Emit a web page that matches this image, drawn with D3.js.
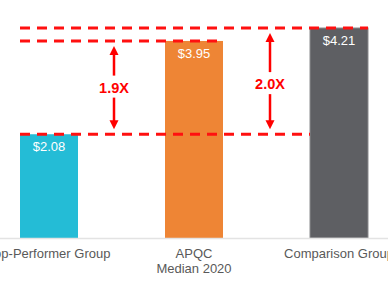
<!DOCTYPE html>
<html>
<head>
<script src="https://d3js.org/d3.v7.min.js"></script>
<style>
    body { margin: 0; background: #fff; }
    text { font-family: "Liberation Sans", Arial, sans-serif; }
</style>
</head>
<body>
<svg width="388" height="300"></svg>
<script>
// data
var categories = ["Top-Performer Group", "APQC\nMedian 2020", "Comparison Group"];
var values = [2.08, 3.95, 4.21];
var valueLabels = ["$2.08", "$3.95", "$4.21"];
var barColors = ["#24bcd6", "#ee8535", "#5e5f63"];
var ratioLabels = ["1.9X", "2.0X"];

var svg = d3.select("svg");
var baseY = 238;

var x = d3.scaleBand()
    .domain(categories)
    .range([-9, 397])
    .paddingInner(0.6)
    .paddingOuter(0.2);

var y = d3.scaleLinear()
    .domain([0, 4.21])
    .range([baseY, 28]);

var bw = x.bandwidth();

// bars
svg.selectAll(".bar")
    .data(categories)
    .enter().append("rect")
    .attr("class", "bar")
    .attr("x", function (d) { return x(d); })
    .attr("y", function (d, i) { return y(values[i]); })
    .attr("width", bw)
    .attr("height", function (d, i) { return baseY - y(values[i]); })
    .attr("fill", function (d, i) { return barColors[i]; })
    .attr("stroke", function (d, i) { return i == 2 ? "#8a8b8e" : "none"; })
    .attr("stroke-width", 1);

// baseline
svg.append("line")
    .attr("x1", 0).attr("x2", 388)
    .attr("y1", baseY + 0.5).attr("y2", baseY + 0.5)
    .attr("stroke", "#e3e3e3")
    .attr("stroke-width", 1.5);

// value labels inside the bars
svg.selectAll(".val")
    .data(categories)
    .enter().append("text")
    .attr("class", "val")
    .attr("x", function (d) { return x(d) + bw / 2; })
    .attr("y", function (d, i) { return y(values[i]) + 17; })
    .attr("text-anchor", "middle")
    .attr("fill", "#fff")
    .style("font-size", "13px")
    .text(function (d, i) { return valueLabels[i]; });

// category labels
var cat = svg.selectAll(".cat")
    .data(categories)
    .enter().append("text")
    .attr("class", "cat")
    .attr("text-anchor", "middle")
    .attr("fill", "#595959")
    .style("font-size", "13px");

cat.selectAll("tspan")
    .data(function (d) { return d.split("\n").map(function (t) { return {t: t, c: d}; }); })
    .enter().append("tspan")
    .attr("x", function (d) { return x(d.c) + bw / 2; })
    .attr("y", function (d, i) { return 258 + i * 15; })
    .text(function (d) { return d.t; });

// dashed reference lines
var x0 = x(categories[0]);
var refs = [
    {v: values[2], x2: x(categories[2]) + bw},
    {v: values[1], x2: x(categories[1]) + bw},
    {v: values[0], x2: x(categories[2])}
];
svg.selectAll(".ref")
    .data(refs)
    .enter().append("line")
    .attr("class", "ref")
    .attr("x1", x0)
    .attr("x2", function (d) { return d.x2; })
    .attr("y1", function (d) { return y(d.v); })
    .attr("y2", function (d) { return y(d.v); })
    .attr("stroke", "#ff1010")
    .attr("stroke-width", 3)
    .attr("stroke-dasharray", "10,7");

// double-headed arrows with ratio text
var arrows = [
    {ax: x(categories[0]) + bw + 36, lo: values[0], hi: values[1], label: ratioLabels[0], ty: 0},
    {ax: x(categories[1]) + bw + 47, lo: values[0], hi: values[2], label: ratioLabels[1], ty: 3}
];

arrows.forEach(function (a) {
    var top = y(a.hi) + 5, bot = y(a.lo) - 5;
    var mid = (y(a.hi) + y(a.lo)) / 2 + a.ty;
    var g = svg.append("g").attr("fill", "#ff0000").attr("stroke", "#ff0000");
    g.append("line")
        .attr("x1", a.ax).attr("x2", a.ax)
        .attr("y1", top + 6).attr("y2", mid - 12)
        .attr("stroke-width", 2.5);
    g.append("line")
        .attr("x1", a.ax).attr("x2", a.ax)
        .attr("y1", mid + 10).attr("y2", bot - 6)
        .attr("stroke-width", 2.5);
    g.append("path")
        .attr("stroke", "none")
        .attr("d", "M" + a.ax + "," + top + "L" + (a.ax - 4.5) + "," + (top + 9) + "L" + (a.ax + 4.5) + "," + (top + 9) + "Z");
    g.append("path")
        .attr("stroke", "none")
        .attr("d", "M" + a.ax + "," + bot + "L" + (a.ax - 4.5) + "," + (bot - 9) + "L" + (a.ax + 4.5) + "," + (bot - 9) + "Z");
    svg.append("text")
        .attr("x", a.ax)
        .attr("y", mid + 5)
        .attr("text-anchor", "middle")
        .attr("fill", "#ff0000")
        .style("font-size", "14.5px")
        .style("font-weight", "bold")
        .text(a.label);
});
</script>
</body>
</html>
